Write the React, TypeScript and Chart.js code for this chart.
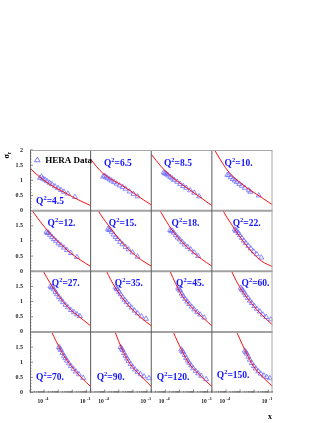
import { useEffect, useRef } from 'react';
import { Chart, registerables } from 'chart.js';

Chart.register(...registerables);

// ---- data ----
const q2Labels = ['4.5', '6.5', '8.5', '10.', '12.', '15.', '18.', '22.', '27.', '35.', '45.', '60.', '70.', '90.', '120.', '150.'];

const dataX: number[][] = [
  [5.11e-5, 6.52e-5, 8.34e-5, 1.155e-4, 1.6e-4, 2.4e-4, 3.61e-4, 5.9e-4, 9.62e-4, 1.57e-3, 2.56e-3, 4.91e-3, 1.54e-2],
  [7.67e-5, 9.82e-5, 1.253e-4, 1.6e-4, 2.22e-4, 3.07e-4, 4.61e-4, 6.94e-4, 1.132e-3, 1.85e-3, 3.01e-3, 5.78e-3, 1.11e-2, 2.13e-2],
  [7.67e-5, 9.04e-5, 1.066e-4, 1.253e-4, 1.6e-4, 2.22e-4, 3.07e-4, 4.25e-4, 6.94e-4, 1.132e-3, 1.85e-3, 3.01e-3, 5.78e-3, 1.11e-2, 2.51e-2],
  [1.253e-4, 1.6e-4, 2.22e-4, 3.07e-4, 4.25e-4, 5.9e-4, 8.87e-4, 1.33e-3, 2.17e-3, 4.17e-3, 5.33e-3, 2.13e-2],
  [1.475e-4, 1.735e-4, 2.04e-4, 2.61e-4, 3.61e-4, 5.01e-4, 6.94e-4, 1.043e-3, 1.57e-3, 2.56e-3, 4.17e-3, 8.01e-3, 2.13e-2],
  [1.735e-4, 2.04e-4, 2.4e-4, 3.07e-4, 4.25e-4, 5.9e-4, 8.17e-4, 1.23e-3, 1.85e-3, 3.01e-3, 4.91e-3, 9.43e-3, 2.13e-2],
  [2.22e-4, 2.61e-4, 3.07e-4, 3.92e-4, 5.43e-4, 7.53e-4, 1.043e-3, 1.57e-3, 2.36e-3, 3.85e-3, 6.27e-3, 1.11e-2, 2.13e-2],
  [4.25e-4, 5.01e-4, 5.9e-4, 7.53e-4, 9.62e-4, 1.33e-3, 1.85e-3, 2.56e-3, 3.85e-3, 5.78e-3, 9.43e-3, 1.54e-2, 3.21e-2],
  [2.83e-4, 3.33e-4, 3.92e-4, 5.01e-4, 6.4e-4, 8.17e-4, 1.132e-3, 1.57e-3, 2.17e-3, 3.27e-3, 4.91e-3, 8.01e-3, 1.31e-2, 2.13e-2, 3.48e-2],
  [5.9e-4, 6.94e-4, 8.17e-4, 1.043e-3, 1.33e-3, 1.85e-3, 2.56e-3, 3.55e-3, 5.33e-3, 8.01e-3, 1.31e-2, 2.13e-2, 4.09e-2, 8.53e-2],
  [8.17e-4, 9.62e-4, 1.132e-3, 1.445e-3, 1.85e-3, 2.56e-3, 3.55e-3, 4.91e-3, 7.38e-3, 1.11e-2, 1.81e-2, 2.95e-2, 5.67e-2],
  [1.132e-3, 1.33e-3, 1.57e-3, 2.0e-3, 2.56e-3, 3.55e-3, 4.91e-3, 6.81e-3, 1.023e-2, 1.54e-2, 2.51e-2, 4.09e-2, 7.24e-2, 0.151],
  [1.132e-3, 1.33e-3, 1.57e-3, 2.0e-3, 2.56e-3, 3.27e-3, 4.17e-3, 5.78e-3, 8.01e-3, 1.205e-2, 1.81e-2, 2.95e-2, 5.96e-2],
  [1.33e-3, 1.57e-3, 1.85e-3, 2.36e-3, 3.01e-3, 3.85e-3, 4.91e-3, 6.81e-3, 9.43e-3, 1.42e-2, 2.13e-2, 3.48e-2, 6.15e-2, 0.139],
  [1.33e-3, 1.57e-3, 1.85e-3, 2.36e-3, 3.01e-3, 3.85e-3, 4.91e-3, 6.81e-3, 9.43e-3, 1.42e-2, 2.13e-2, 3.48e-2, 7.85e-2],
  [2.17e-3, 2.56e-3, 3.01e-3, 3.85e-3, 4.91e-3, 6.81e-3, 9.43e-3, 1.31e-2, 1.96e-2, 2.95e-2, 4.82e-2, 7.85e-2, 0.128],
];

const dataY: number[][] = [
  [1.08, 1.12, 1.05, 1.02, 0.97, 0.92, 0.87, 0.8, 0.74, 0.68, 0.62, 0.56, 0.45],
  [1.12, 1.15, 1.1, 1.07, 1.03, 0.99, 0.94, 0.89, 0.83, 0.78, 0.72, 0.63, 0.55, 0.47],
  [1.26, 1.24, 1.22, 1.2, 1.16, 1.11, 1.06, 1.01, 0.95, 0.88, 0.81, 0.75, 0.67, 0.59, 0.47],
  [1.18, 1.17, 1.1, 1.04, 0.99, 0.94, 0.88, 0.82, 0.75, 0.67, 0.62, 0.5],
  [1.3, 1.26, 1.27, 1.2, 1.13, 1.06, 1.0, 0.92, 0.86, 0.78, 0.7, 0.6, 0.47],
  [1.4, 1.36, 1.37, 1.3, 1.21, 1.13, 1.06, 0.97, 0.89, 0.8, 0.72, 0.62, 0.48],
  [1.36, 1.32, 1.34, 1.27, 1.19, 1.11, 1.05, 0.96, 0.88, 0.8, 0.72, 0.62, 0.5],
  [1.38, 1.33, 1.34, 1.26, 1.19, 1.1, 1.01, 0.93, 0.84, 0.75, 0.65, 0.56, 0.45],
  [1.5, 1.46, 1.48, 1.4, 1.32, 1.24, 1.15, 1.07, 0.98, 0.89, 0.81, 0.72, 0.65, 0.58, 0.52],
  [1.47, 1.42, 1.4, 1.32, 1.24, 1.14, 1.06, 0.98, 0.89, 0.8, 0.7, 0.61, 0.51, 0.43],
  [1.45, 1.4, 1.36, 1.26, 1.18, 1.09, 1.0, 0.92, 0.83, 0.74, 0.65, 0.57, 0.47],
  [1.45, 1.4, 1.37, 1.29, 1.21, 1.12, 1.03, 0.95, 0.85, 0.76, 0.67, 0.57, 0.49, 0.41],
  [1.5, 1.45, 1.4, 1.3, 1.21, 1.13, 1.05, 0.96, 0.87, 0.78, 0.69, 0.6, 0.48],
  [1.5, 1.45, 1.4, 1.3, 1.21, 1.12, 1.04, 0.94, 0.85, 0.76, 0.68, 0.6, 0.53, 0.47],
  [1.42, 1.37, 1.33, 1.24, 1.14, 1.06, 0.98, 0.89, 0.8, 0.71, 0.63, 0.55, 0.44],
  [1.38, 1.33, 1.28, 1.18, 1.08, 0.97, 0.87, 0.79, 0.7, 0.62, 0.56, 0.51, 0.47],
];

const fitX: number[][] = [
  [1e-5, 5.11e-5, 2.61e-4, 1.33e-3, 6.81e-3, 3.48e-2, 0.2],
  [1e-5, 2.66e-5, 7.43e-5, 2.61e-4, 1.33e-3, 6.81e-3, 3.48e-2, 0.2],
  [1e-5, 5.11e-5, 2.61e-4, 1.33e-3, 6.81e-3, 3.48e-2, 0.2],
  [1e-5, 5.11e-5, 1.6e-4, 1.33e-3, 6.81e-3, 3.48e-2, 0.2],
  [1e-5, 5.11e-5, 2.61e-4, 1.33e-3, 6.81e-3, 3.48e-2, 0.2],
  [1e-5, 2.26e-5, 5.11e-5, 2.61e-4, 1.33e-3, 6.81e-3, 3.48e-2, 0.2],
  [1e-5, 5.11e-5, 2.61e-4, 1.33e-3, 6.81e-3, 3.48e-2, 0.2],
  [2.26e-5, 5.11e-5, 2.61e-4, 1.33e-3, 6.81e-3, 3.48e-2, 0.2],
  [3.69e-5, 8.75e-5, 2.61e-4, 1.33e-3, 6.81e-3, 3.48e-2, 0.2],
  [5.11e-5, 1.36e-4, 2.61e-4, 1.33e-3, 6.81e-3, 3.48e-2, 0.2],
  [7.08e-5, 2.13e-4, 1.33e-3, 6.81e-3, 3.48e-2, 0.2],
  [9.82e-5, 2.52e-4, 5.9e-4, 1.33e-3, 6.81e-3, 3.48e-2, 0.2],
  [1.36e-4, 3.44e-4, 1.33e-3, 4.17e-3, 1.54e-2, 5.67e-2, 0.2],
  [1.88e-4, 5.35e-4, 1.57e-3, 4.91e-3, 2.13e-2, 6.67e-2, 0.2],
  [1.36e-4, 3.61e-4, 1.33e-3, 5.33e-3, 2.51e-2, 6.67e-2, 0.2],
  [1.88e-4, 5.7e-4, 2.17e-3, 8.69e-3, 3.48e-2, 0.2],
];

const fitY: number[][] = [
  [1.4, 1.1, 0.86, 0.68, 0.5, 0.33, 0.165],
  [1.7, 1.45, 1.23, 1.05, 0.86, 0.65, 0.42, 0.19],
  [1.86, 1.45, 1.13, 0.88, 0.65, 0.42, 0.165],
  [2.15, 1.6, 1.27, 0.88, 0.64, 0.43, 0.19],
  [2.1, 1.65, 1.25, 0.92, 0.62, 0.38, 0.16],
  [2.45, 2.15, 1.87, 1.42, 1.0, 0.66, 0.39, 0.17],
  [2.55, 1.93, 1.4, 1.0, 0.68, 0.41, 0.17],
  [2.5, 2.08, 1.53, 1.05, 0.64, 0.33, 0.15],
  [2.35, 2.0, 1.62, 1.13, 0.75, 0.48, 0.2],
  [2.45, 2.0, 1.73, 1.2, 0.8, 0.48, 0.2],
  [2.55, 2.0, 1.25, 0.83, 0.52, 0.2],
  [2.45, 2.0, 1.65, 1.37, 0.93, 0.56, 0.23],
  [2.45, 2.0, 1.45, 1.06, 0.73, 0.44, 0.2],
  [2.55, 2.0, 1.47, 1.02, 0.66, 0.42, 0.2],
  [2.45, 2.0, 1.43, 0.93, 0.6, 0.4, 0.2],
  [2.5, 2.0, 1.41, 0.88, 0.54, 0.2],
];

const xLabelTicks = [1e-4, 1e-1];
const xLabelExps = ['-4', '-1'];
const yTickStep = 0.5;

// ---- layout (panel-relative label centres) ----
const labelPos: number[][] = [
  [0.33, 0.84], [0.45, 0.2], [0.44, 0.2], [0.44, 0.2],
  [0.52, 0.2], [0.53, 0.2], [0.565, 0.2], [0.574, 0.2],
  [0.59, 0.19], [0.63, 0.19], [0.64, 0.19], [0.72, 0.19],
  [0.33, 0.73], [0.33, 0.73], [0.36, 0.73], [0.35, 0.71],
];

const SERIF = "'Liberation Serif', 'Times New Roman', serif";
const BLUE = '#1414ff';
const TRI = '#6e6eff';

function drawQ(ctx: CanvasRenderingContext2D, text: string, cx: number, cy: number) {
  const big = `bold 9.5px ${SERIF}`;
  const small = `bold 6.5px ${SERIF}`;
  ctx.font = big;
  const wQ = ctx.measureText('Q').width;
  const wRest = ctx.measureText('=' + text).width;
  ctx.font = small;
  const w2 = ctx.measureText('2').width;
  let x = cx - (wQ + w2 + wRest) / 2;
  const base = cy + 3.4;
  ctx.textAlign = 'left';
  ctx.textBaseline = 'alphabetic';
  ctx.fillStyle = BLUE;
  ctx.font = big;
  ctx.fillText('Q', x, base);
  x += wQ;
  ctx.font = small;
  ctx.fillText('2', x, base - 4);
  x += w2;
  ctx.font = big;
  ctx.fillText('=' + text, x, base);
}

function seg(ctx: CanvasRenderingContext2D, x1: number, y1: number, x2: number, y2: number) {
  ctx.beginPath();
  ctx.moveTo(x1, y1);
  ctx.lineTo(x2, y2);
  ctx.stroke();
}

const decoPlugin = {
  id: 'deco',
  beforeDraw(chart: any) {
    const ctx = chart.ctx;
    ctx.save();
    ctx.fillStyle = '#ffffff';
    ctx.fillRect(0, 0, chart.width, chart.height);
    ctx.restore();
  },
  afterDraw(chart: any) {
    const ctx: CanvasRenderingContext2D = chart.ctx;
    const xs = [0, 1, 2, 3].map((c) => chart.scales['x' + c]);
    const ys = [0, 1, 2, 3].map((r) => chart.scales['y' + r]);
    const L = xs[0].left, R = xs[3].right, T = ys[0].top, B = ys[3].bottom;
    ctx.save();

    // inner tick marks on left axis
    ctx.strokeStyle = '#555';
    ctx.lineWidth = 0.7;
    ys.forEach((s) => {
      for (let k = 0; k <= 20; k++) {
        const y = s.getPixelForValue(k / 10);
        seg(ctx, L, y, L + (k % 5 === 0 ? 3 : 1.5), y);
      }
    });
    // inner tick marks on bottom axis
    xs.forEach((s) => {
      for (let d = -5; d <= -1; d++) {
        for (let m = 1; m <= 9; m++) {
          const v = m * Math.pow(10, d);
          if (v > s.max) break;
          const x = s.getPixelForValue(v);
          seg(ctx, x, B, x, B - (m === 1 ? 3 : 1.5));
        }
      }
    });

    // panel frames
    ctx.strokeStyle = '#a2a2a2';
    ctx.lineWidth = 2;
    for (let r = 1; r < 4; r++) seg(ctx, L, ys[r].top, R, ys[r].top);
    ctx.strokeStyle = '#5a5a5a';
    ctx.lineWidth = 1;
    for (let c = 1; c < 4; c++) seg(ctx, xs[c].left, T, xs[c].left, B);
    ctx.strokeStyle = '#a8a8a8';
    seg(ctx, L, T + 0.5, R, T + 0.5);
    seg(ctx, R - 0.5, T, R - 0.5, B);
    ctx.strokeStyle = '#6a6a6a';
    seg(ctx, L + 0.5, T, L + 0.5, B);
    seg(ctx, L, B - 0.5, R, B - 0.5);

    // Q^2 labels
    for (let i = 0; i < 16; i++) {
      const xs_ = xs[i % 4], ys_ = ys[Math.floor(i / 4)];
      const cx = xs_.left + labelPos[i][0] * (xs_.right - xs_.left);
      const cy = ys_.top + labelPos[i][1] * (ys_.bottom - ys_.top);
      drawQ(ctx, q2Labels[i], cx, cy);
    }

    // legend "HERA Data"
    {
      const pw = xs[0].right - xs[0].left, ph = ys[0].bottom - ys[0].top;
      const tx = xs[0].left + 0.12 * pw, ty = ys[0].top + 0.165 * ph;
      const rad = 3;
      ctx.strokeStyle = TRI;
      ctx.lineWidth = 0.9;
      ctx.beginPath();
      ctx.moveTo(tx, ty - rad);
      ctx.lineTo(tx + rad * 0.95, ty + rad * 0.6);
      ctx.lineTo(tx - rad * 0.95, ty + rad * 0.6);
      ctx.closePath();
      ctx.stroke();
      ctx.fillStyle = '#000';
      ctx.font = `bold 9px ${SERIF}`;
      ctx.textAlign = 'left';
      ctx.textBaseline = 'alphabetic';
      ctx.fillText('HERA Data', xs[0].left + 0.25 * pw, ty + 3.2);
    }

    // x tick labels 10^n
    ctx.fillStyle = '#222';
    xs.forEach((s) => {
      xLabelTicks.forEach((v, k) => {
        const x = s.getPixelForValue(v);
        ctx.font = `bold 5.5px ${SERIF}`;
        ctx.textAlign = 'right';
        ctx.fillText('10', x - 1, B + 10);
        ctx.font = `bold 4.3px ${SERIF}`;
        ctx.textAlign = 'left';
        ctx.fillText(xLabelExps[k], x + 0.6, B + 7.3);
      });
    });

    // axis titles
    ctx.fillStyle = '#000';
    ctx.font = `bold 8px ${SERIF}`;
    ctx.textAlign = 'center';
    ctx.fillText('x', R - 2.5, B + 26.5);

    ctx.save();
    ctx.translate(L - 21.5, T + 8.5);
    ctx.rotate(-Math.PI / 2);
    ctx.textAlign = 'left';
    ctx.font = `bold 8px ${SERIF}`;
    ctx.fillText('σ', 0, 0);
    const ws = ctx.measureText('σ').width;
    ctx.font = `bold 5.5px ${SERIF}`;
    ctx.fillText('r', ws, 2);
    ctx.restore();

    ctx.restore();
  },
};

export default function App() {
  const ref = useRef<HTMLCanvasElement>(null);

  useEffect(() => {
    const canvas = ref.current;
    if (!canvas) return;

    const datasets: any[] = [];
    for (let i = 0; i < 16; i++) {
      const r = Math.floor(i / 4), c = i % 4;
      datasets.push({
        type: 'line',
        data: fitX[i].map((x, j) => ({ x, y: fitY[i][j] })),
        xAxisID: 'x' + c,
        yAxisID: 'y' + r,
        borderColor: '#ff1010',
        borderWidth: 1,
        pointRadius: 0,
        fill: false,
        cubicInterpolationMode: 'monotone',
        clip: 0,
        order: 1,
      });
      datasets.push({
        type: 'scatter',
        data: dataX[i].map((x, j) => ({ x, y: dataY[i][j] })),
        xAxisID: 'x' + c,
        yAxisID: 'y' + r,
        showLine: false,
        pointStyle: 'triangle',
        pointRadius: 2.9,
        borderWidth: 0.8,
        borderColor: TRI,
        backgroundColor: 'rgba(0,0,0,0)',
        order: 2,
      });
    }

    const scales: any = {};
    for (let c = 0; c < 4; c++) {
      scales['x' + c] = {
        type: 'logarithmic',
        position: 'bottom',
        stack: 'cols',
        stackWeight: 1,
        weight: c + 1,
        min: 1e-5,
        max: 0.2,
        offset: false,
        grid: { display: false, drawTicks: false },
        border: { display: false },
        ticks: { display: false },
        afterFit: (s: any) => { s.height = 30; },
      };
    }
    for (let r = 0; r < 4; r++) {
      scales['y' + r] = {
        type: 'linear',
        position: 'left',
        stack: 'rows',
        stackWeight: 1,
        weight: 4 - r,
        min: 0,
        max: 2,
        grid: { display: false, drawTicks: false },
        border: { display: false },
        ticks: {
          stepSize: yTickStep,
          autoSkip: false,
          padding: 7,
          color: '#222',
          font: { family: SERIF, size: 6, weight: 'bold' },
          callback: (v: number) => (r > 0 && v === 2 ? '' : String(v)),
        },
        afterFit: (s: any) => { s.width = 22; },
      };
    }

    const chart = new Chart(canvas, {
      type: 'scatter',
      data: { datasets },
      options: {
        animation: false,
        responsive: false,
        devicePixelRatio: 1,
        events: [],
        layout: { padding: { left: 8, top: 150, right: 54.5, bottom: 0.5 } },
        plugins: { legend: { display: false }, tooltip: { enabled: false }, title: { display: false } },
        scales,
      } as any,
      plugins: [decoPlugin],
    });

    return () => chart.destroy();
  }, []);

  return (
    <div style={{ position: 'fixed', left: 0, top: 0, width: 327, height: 423, background: '#fff' }}>
      <canvas ref={ref} width={327} height={423} style={{ display: 'block', width: 327, height: 423 }} />
    </div>
  );
}
